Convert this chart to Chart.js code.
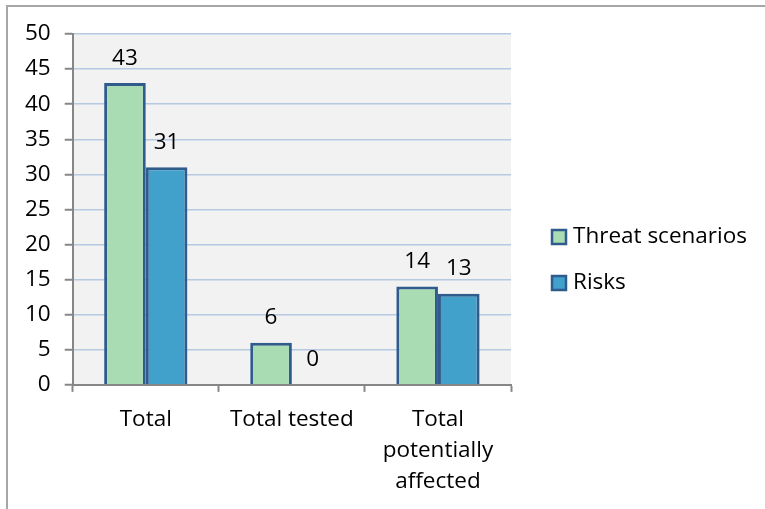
<!DOCTYPE html>
<html>
<head>
<meta charset="utf-8">
<script src="https://cdn.jsdelivr.net/npm/chart.js@4.4.1/dist/chart.umd.min.js"></script>
<style>
  html, body { margin: 0; padding: 0; background: #fff; }
  #frame { position: absolute; left: 6px; top: 5px; width: 800px; height: 600px;
           border-top: 2px solid #a6a6a6; border-left: 2px solid #a6a6a6; }
  #wrap { position: absolute; left: 0; top: 0; width: 765px; height: 509px; }
</style>
</head>
<body>
<div id="frame"></div>
<div id="wrap"><canvas id="chart" width="765" height="509"></canvas></div>
<script>
// categories and values
const categories = [['Total'], ['Total tested'], ['Total', 'potentially', 'affected']];
const threatScenarios = [43, 6, 14];
const risks = [31, 0, 13];
const yTicks = [0, 5, 10, 15, 20, 25, 30, 35, 40, 45, 50];

const FONT = '"Open Sans", sans-serif';
const FONT_SIZE = 22.5;

// grey plot area behind the bars
const plotBackground = {
    id: 'plotBackground',
    beforeDraw(chart) {
        const { ctx, chartArea } = chart;
        ctx.save();
        ctx.fillStyle = '#f2f2f2';
        ctx.fillRect(chartArea.left, chartArea.top, chartArea.right - chartArea.left, chartArea.bottom - chartArea.top);
        ctx.restore();
    }
};

// value labels above each bar
const valueLabels = {
    id: 'valueLabels',
    afterDatasetsDraw(chart) {
        const ctx = chart.ctx;
        ctx.save();
        ctx.font = FONT_SIZE + 'px ' + FONT;
        ctx.fillStyle = '#000';
        ctx.textAlign = 'center';
        ctx.textBaseline = 'middle';
        chart.data.datasets.forEach((ds, i) => {
            chart.getDatasetMeta(i).data.forEach((bar, j) => {
                ctx.fillText(String(ds.data[j]), bar.x, bar.y - 25);
            });
        });
        ctx.restore();
    }
};

// legend at the right, Excel style: square swatch then the name
const sideLegend = {
    id: 'sideLegend',
    afterDraw(chart) {
        const ctx = chart.ctx;
        const x = 552, y0 = 237, step = 46;
        ctx.save();
        ctx.font = FONT_SIZE + 'px ' + FONT;
        ctx.textBaseline = 'middle';
        chart.data.datasets.forEach((ds, i) => {
            const y = y0 + i * step;
            ctx.fillStyle = ds.backgroundColor;
            ctx.fillRect(x, y - 7, 14, 14);
            ctx.strokeStyle = ds.borderColor;
            ctx.lineWidth = 2.5;
            ctx.strokeRect(x, y - 7, 14, 14);
            ctx.fillStyle = '#000';
            ctx.fillText(ds.label, x + 21, y);
        });
        ctx.restore();
    }
};

new Chart(document.getElementById('chart'), {
    type: 'bar',
    data: {
        labels: categories,
        datasets: [
            {
                label: 'Threat scenarios',
                data: threatScenarios,
                backgroundColor: '#a9dcb3',
                borderColor: '#2f5b8d',
                borderWidth: 3,
                categoryPercentage: 0.57,
                barPercentage: 1.0
            },
            {
                label: 'Risks',
                data: risks,
                backgroundColor: '#42a1cb',
                borderColor: '#2f5b8d',
                borderWidth: 3,
                categoryPercentage: 0.57,
                barPercentage: 1.0
            }
        ]
    },
    options: {
        responsive: false,
        animation: false,
        layout: { padding: { left: 11, top: 34, right: 254, bottom: 0 } },
        scales: {
            x: {
                grid: { drawOnChartArea: false, drawTicks: true, tickLength: 7, tickColor: '#868686', tickWidth: 2, offset: true },
                border: { color: '#868686', width: 2 },
                ticks: { color: '#000', font: { family: FONT, size: FONT_SIZE, lineHeight: 1.38 }, padding: 12, maxRotation: 0 }
            },
            y: {
                min: 0,
                max: 50,
                afterBuildTicks(axis) { axis.ticks = yTicks.map(v => ({ value: v })); },
                grid: { color: '#b6c9e2', lineWidth: 1.5, tickLength: 8, tickColor: '#868686', tickWidth: 2 },
                border: { color: '#868686', width: 2 },
                ticks: { color: '#000', font: { family: FONT, size: FONT_SIZE }, padding: 14 }
            }
        },
        plugins: {
            legend: { display: false },
            tooltip: { enabled: false }
        }
    },
    plugins: [plotBackground, valueLabels, sideLegend]
});
</script>
</body>
</html>
